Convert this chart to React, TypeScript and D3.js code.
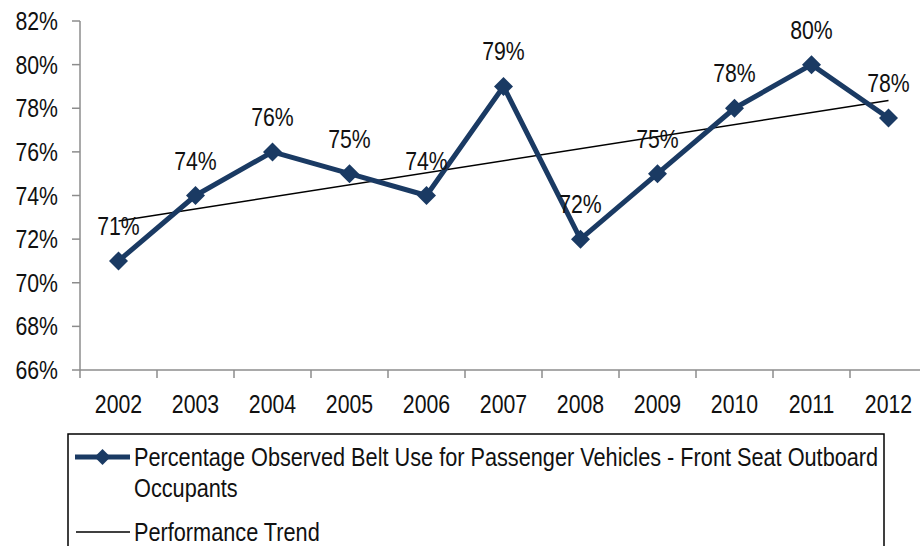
import React from "react";
import * as d3 from "d3";

const years = ["2002","2003","2004","2005","2006","2007","2008","2009","2010","2011","2012"];
const beltUse = [71, 74, 76, 75, 74, 79, 72, 75, 78, 80, 77.55];
const pointLabels = ["71%","74%","76%","75%","74%","79%","72%","75%","78%","80%","78%"];
const yTicks = [66, 68, 70, 72, 74, 76, 78, 80, 82];
const seriesName = ["Percentage Observed Belt Use for Passenger Vehicles - Front Seat Outboard", "Occupants"];
const trendName = "Performance Trend";

const W = 920, H = 546;
const left = 80, top = 21, bottom = 370;
const band = 77;
const FONT = "'Liberation Sans', Arial, sans-serif";
const NAVY = "#1A3A63";
const SX = 0.85;

function NText({ x, y, anchor = "start", size = 25, sx = SX, children }: any) {
  return (
    <text
      transform={`translate(${x},${y}) scale(${sx},1)`}
      dy="0.36em"
      textAnchor={anchor}
      fontSize={size}
    >
      {children}
    </text>
  );
}

export default function App() {
  const x = d3.scaleBand<string>().domain(years).range([left, left + band * years.length]);
  const y = d3.scaleLinear().domain([66, 82]).range([bottom, top]);
  const cx = (i: number) => (x(years[i]) as number) + x.bandwidth() / 2;

  const line = d3.line<number>().x((_, i) => cx(i)).y((d) => y(d));

  // linear regression trend
  const n = beltUse.length;
  const mx = d3.mean(beltUse.map((_, i) => i)) as number;
  const my = d3.mean(beltUse) as number;
  const sxy = d3.sum(beltUse.map((v, i) => (i - mx) * (v - my)));
  const sxx = d3.sum(beltUse.map((_, i) => (i - mx) * (i - mx)));
  const slope = sxy / sxx;
  const b0 = my - slope * mx;

  const diamond = (px: number, py: number, r: number) =>
    `M${px},${py - r}L${px + r},${py}L${px},${py + r}L${px - r},${py}Z`;

  return (
    <svg width={W} height={H} style={{ position: "absolute", left: 0, top: 0, background: "#fff" }}>
      <rect width={W} height={H} fill="#fff" />
      {/* axes */}
      <g stroke="#8c8c8c" strokeWidth={1.5} fill="none">
        <line x1={left} x2={left} y1={top} y2={bottom} />
        <line x1={left} x2={W} y1={bottom} y2={bottom} />
        {yTicks.map((t) => (
          <line key={t} x1={left - 8} x2={left} y1={y(t)} y2={y(t)} />
        ))}
        {years.map((yr, i) => (
          <line key={yr} x1={left + band * i} x2={left + band * i} y1={bottom} y2={bottom + 8} />
        ))}
      </g>
      <g fontFamily={FONT} fill="#111">
        {yTicks.map((t) => (
          <NText key={t} x={58} y={y(t)} anchor="end">{t}%</NText>
        ))}
        {years.map((yr, i) => (
          <NText key={yr} x={cx(i)} y={404} anchor="middle">{yr}</NText>
        ))}
      </g>
      {/* trend */}
      <line x1={cx(0)} y1={y(b0)} x2={cx(n - 1)} y2={y(b0 + slope * (n - 1))} stroke="#000" strokeWidth={1.5} />
      {/* series */}
      <path d={line(beltUse) as string} fill="none" stroke={NAVY} strokeWidth={5} strokeLinejoin="round" />
      {beltUse.map((v, i) => (
        <path key={i} d={diamond(cx(i), y(v), 9.5)} fill={NAVY} />
      ))}
      <g fontFamily={FONT} fill="#111">
        {beltUse.map((v, i) => (
          <NText key={i} x={cx(i)} y={y(v) - 35} anchor="middle">{pointLabels[i]}</NText>
        ))}
      </g>
      {/* legend */}
      <rect x={68} y={434} width={816} height={140} fill="#fff" stroke="#000" strokeWidth={1.5} />
      <line x1={75} x2={130} y1={457} y2={457} stroke={NAVY} strokeWidth={5} />
      <path d={diamond(102.5, 457, 8)} fill={NAVY} />
      <line x1={76} x2={130} y1={532} y2={532} stroke="#000" strokeWidth={1.5} />
      <g fontFamily={FONT} fill="#111">
        <NText x={134} y={457} size={26} sx={0.835}>{seriesName[0]}</NText>
        <NText x={134} y={488} size={26} sx={0.835}>{seriesName[1]}</NText>
        <NText x={134} y={532} size={26} sx={0.835}>{trendName}</NText>
      </g>
    </svg>
  );
}
